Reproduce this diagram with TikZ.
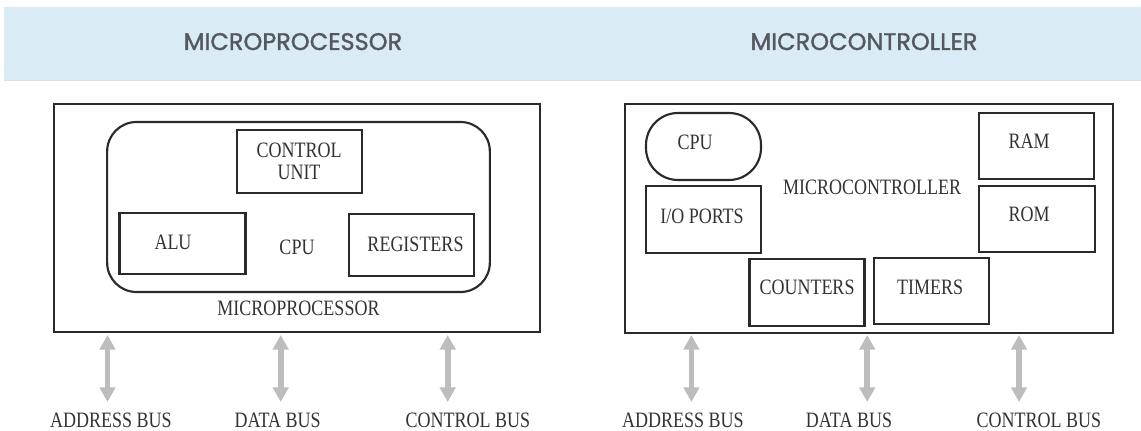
\documentclass[tikz,border=0pt]{standalone}
\usepackage{fontspec}
\usepackage{graphicx}
\setmainfont{Liberation Serif}
\newfontfamily\hdfont{Poppins}[FakeBold=1.4]
\usetikzlibrary{arrows.meta}
\definecolor{band}{HTML}{D9EBF5}
\definecolor{hdtext}{HTML}{55595D}
\definecolor{ink}{HTML}{2A2A2A}
\definecolor{txtc}{HTML}{333333}
\definecolor{busc}{HTML}{BDBDBD}
\newcommand{\tallt}[1]{\scalebox{1}[1.22]{#1}}
\begin{document}
\begin{tikzpicture}[x=0.75pt,y=-0.75pt,
  box/.style={draw=ink,line width=1.6pt,rectangle,inner sep=0pt},
  rbox/.style={box,rounded corners=22pt},
  txt/.style={font=\fontsize{13.5}{17.25}\selectfont,text=txtc,anchor=base,inner sep=0pt},
  hd/.style={font=\hdfont\fontsize{18}{21}\selectfont,text=hdtext,anchor=base,inner sep=0pt},
  bus/.style={draw=busc,line width=4.2pt,{Triangle[width=11.5pt,length=11pt]}-{Triangle[width=11.5pt,length=11pt]}}]
\useasboundingbox (0,0) rectangle (1141,431);
% header band
\fill[band] (4,7) rectangle (1141,80);
\draw[black!12,line width=1pt] (4,80.5) -- (1141,80.5);
\node[hd] (h1) at (293,50) {MICROPROCESSOR};
\node[hd] (h2) at (864,50) {MICROCONTROLLER};
% ---------- left: microprocessor ----------
\node[box,minimum width=364.5pt,minimum height=171pt] (mp) at (297,218) {};
\node[rbox,minimum width=287pt,minimum height=127.5pt] (cpu) at (298.5,207) {};
\node[box,minimum width=93.75pt,minimum height=47.25pt] (cu) at (299.5,161.5) {};
\node[box,minimum width=94.5pt,minimum height=45.75pt] (alu) at (182.5,243.5) {};
\node[box,minimum width=93.75pt,minimum height=46.5pt] (reg) at (411.5,245) {};
\node[txt] (tcu1) at (299,157) {\tallt{CONTROL}};
\node[txt] (tcu2) at (299,180) {\tallt{UNIT}};
\node[txt] (talu) at (173,249) {\tallt{ALU}};
\node[txt] (treg) at (415.5,251) {\tallt{REGISTERS}};
\node[txt] (tcpu) at (297,254) {\tallt{CPU}};
\node[txt] (tmp) at (298.5,315) {\tallt{MICROPROCESSOR}};
% ---------- right: microcontroller ----------
\node[box,minimum width=366pt,minimum height=171.75pt] (mc) at (869,218.5) {};
\node[box,rounded corners=24pt,minimum width=86.25pt,minimum height=50.25pt] (ccpu) at (703.5,146.5) {};
\node[box,minimum width=86.25pt,minimum height=50.25pt] (io) at (703.5,219.5) {};
\node[box,minimum width=86.25pt,minimum height=49.5pt] (ram) at (1036.5,146) {};
\node[box,minimum width=87pt,minimum height=49.5pt] (rom) at (1037,219) {};
\node[box,minimum width=86.25pt,minimum height=50.25pt] (cnt) at (807,292.5) {};
\node[box,minimum width=86.25pt,minimum height=49.5pt] (tim) at (931.5,291) {};
\node[txt] (tccpu) at (695,150) {\tallt{CPU}};
\node[txt] (tio) at (702,223) {\tallt{I/O PORTS}};
\node[txt] (tmc) at (872,195) {\tallt{MICROCONTROLLER}};
\node[txt] (tram) at (1029,149) {\tallt{RAM}};
\node[txt] (trom) at (1029,221) {\tallt{ROM}};
\node[txt] (tcnt) at (807,294) {\tallt{COUNTERS}};
\node[txt] (ttim) at (930,294) {\tallt{TIMERS}};
% ---------- buses ----------
\foreach \n/\x in {a/107.5,b/280.7,c/447.7,d/691.4,e/867.2,f/1019}{
  \coordinate (\n t) at (\x,335);
  \coordinate (\n b) at (\x,402);
  \draw[bus] (\n t) -- (\n b);
}
\node[txt] (la) at (111,427) {\tallt{ADDRESS BUS}};
\node[txt] (lb) at (277.6,427) {\tallt{DATA BUS}};
\node[txt] (lc) at (467.8,427) {\tallt{CONTROL BUS}};
\node[txt] (ld) at (682.8,427) {\tallt{ADDRESS BUS}};
\node[txt] (le) at (849,427) {\tallt{DATA BUS}};
\node[txt] (lf) at (1038.8,427) {\tallt{CONTROL BUS}};
\end{tikzpicture}
\end{document}
